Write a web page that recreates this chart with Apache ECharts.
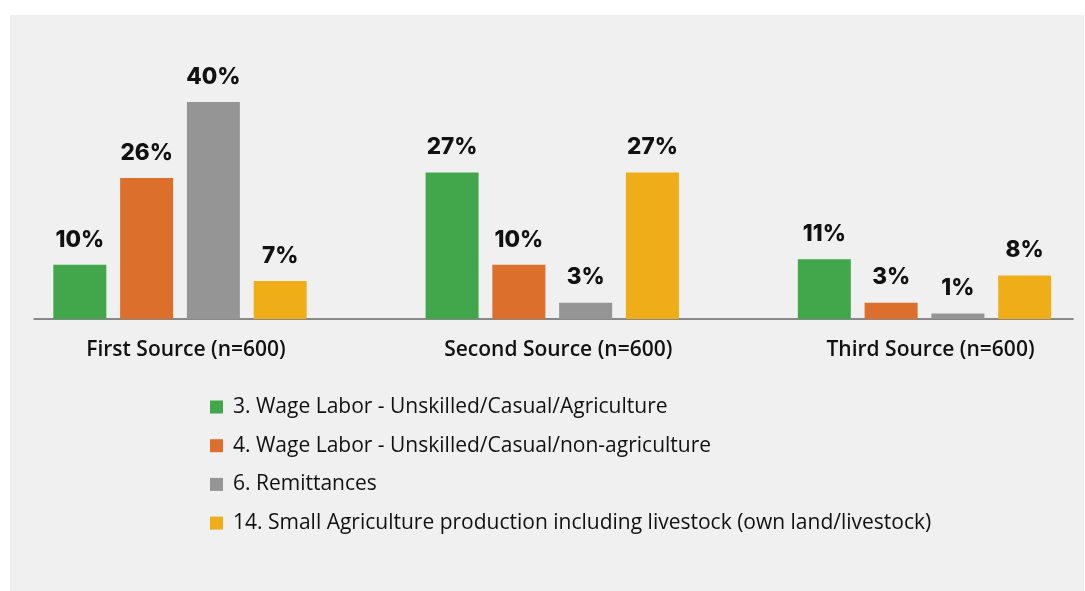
<!DOCTYPE html>
<html>
<head>
<meta charset="utf-8">
<script src="https://cdn.jsdelivr.net/npm/echarts@6/dist/echarts.min.js"></script>
<style>
  html, body { margin: 0; padding: 0; background: #ffffff; }
  #panel { position: absolute; left: 10px; top: 15px; width: 1074px; height: 576px; background: #f0f0f0; }
  #chart { position: absolute; left: 0; top: 0; width: 1085px; height: 591px; }
</style>
</head>
<body>
<div id="panel"></div>
<div id="chart"></div>
<script>
// Income sources, share of households (%)
const categories = ['First Source (n=600)', 'Second Source (n=600)', 'Third Source (n=600)'];
const seriesNames = [
  '3. Wage Labor - Unskilled/Casual/Agriculture',
  '4. Wage Labor - Unskilled/Casual/non-agriculture',
  '6. Remittances',
  '14. Small Agriculture production including livestock (own land/livestock)'
];
const wageAgri = [10, 27, 11];
const wageNonAgri = [26, 10, 3];
const remittances = [40, 3, 1];
const smallAgri = [7, 27, 8];
const colors = ['#42a64a', '#dc6f2b', '#959595', '#efae18'];

const values = [wageAgri, wageNonAgri, remittances, smallAgri];

const chart = echarts.init(document.getElementById('chart'), null, { renderer: 'canvas' });

const labelStyle = {
  show: true,
  position: 'top',
  distance: 13.5,
  formatter: '{c}%',
  fontFamily: 'Inter',
  fontWeight: 800,
  fontSize: 22.5,
  color: '#111111'
};

chart.setOption({
  backgroundColor: 'transparent',
  animation: false,
  grid: [
    // category points sit at the grid edges (boundaryGap: false)
    { left: 180, right: 160.5, top: 47.75, bottom: 272 },
    // baseline rule
    { left: 34, right: 12, top: 47.75, bottom: 272 }
  ],
  xAxis: [
    {
      type: 'category',
      gridIndex: 0,
      data: categories,
      boundaryGap: false,
      axisLine: { show: false },
      axisTick: { show: false },
      axisLabel: {
        margin: 21,
        padding: [0, 0, 0, 12],
        fontFamily: 'Open Sans',
        fontWeight: 600,
        fontSize: 21,
        color: '#111111'
      }
    },
    {
      type: 'category',
      gridIndex: 1,
      data: [''],
      axisLine: { show: true, lineStyle: { color: '#666666', width: 1.5 } },
      axisTick: { show: false },
      axisLabel: { show: false }
    }
  ],
  yAxis: [
    { type: 'value', gridIndex: 0, min: 0, max: 50, show: false, splitLine: { show: false } },
    { type: 'value', gridIndex: 1, min: 0, max: 50, show: false, splitLine: { show: false } }
  ],
  legend: {
    orient: 'vertical',
    left: 205,
    top: 391,
    itemWidth: 13,
    itemHeight: 13,
    itemGap: 16.7,
    icon: 'rect',
    textStyle: {
      fontFamily: 'Open Sans',
      fontSize: 21,
      color: '#111111',
      lineHeight: 22,
      padding: [0, 0, 0, 5]
    },
    data: seriesNames
  },
  series: seriesNames.map((name, i) => ({
    name: name,
    type: 'bar',
    xAxisIndex: 0,
    yAxisIndex: 0,
    data: values[i],
    barWidth: 53,
    barGap: '26%',
    itemStyle: { color: colors[i] },
    label: labelStyle
  }))
});
</script>
</body>
</html>
